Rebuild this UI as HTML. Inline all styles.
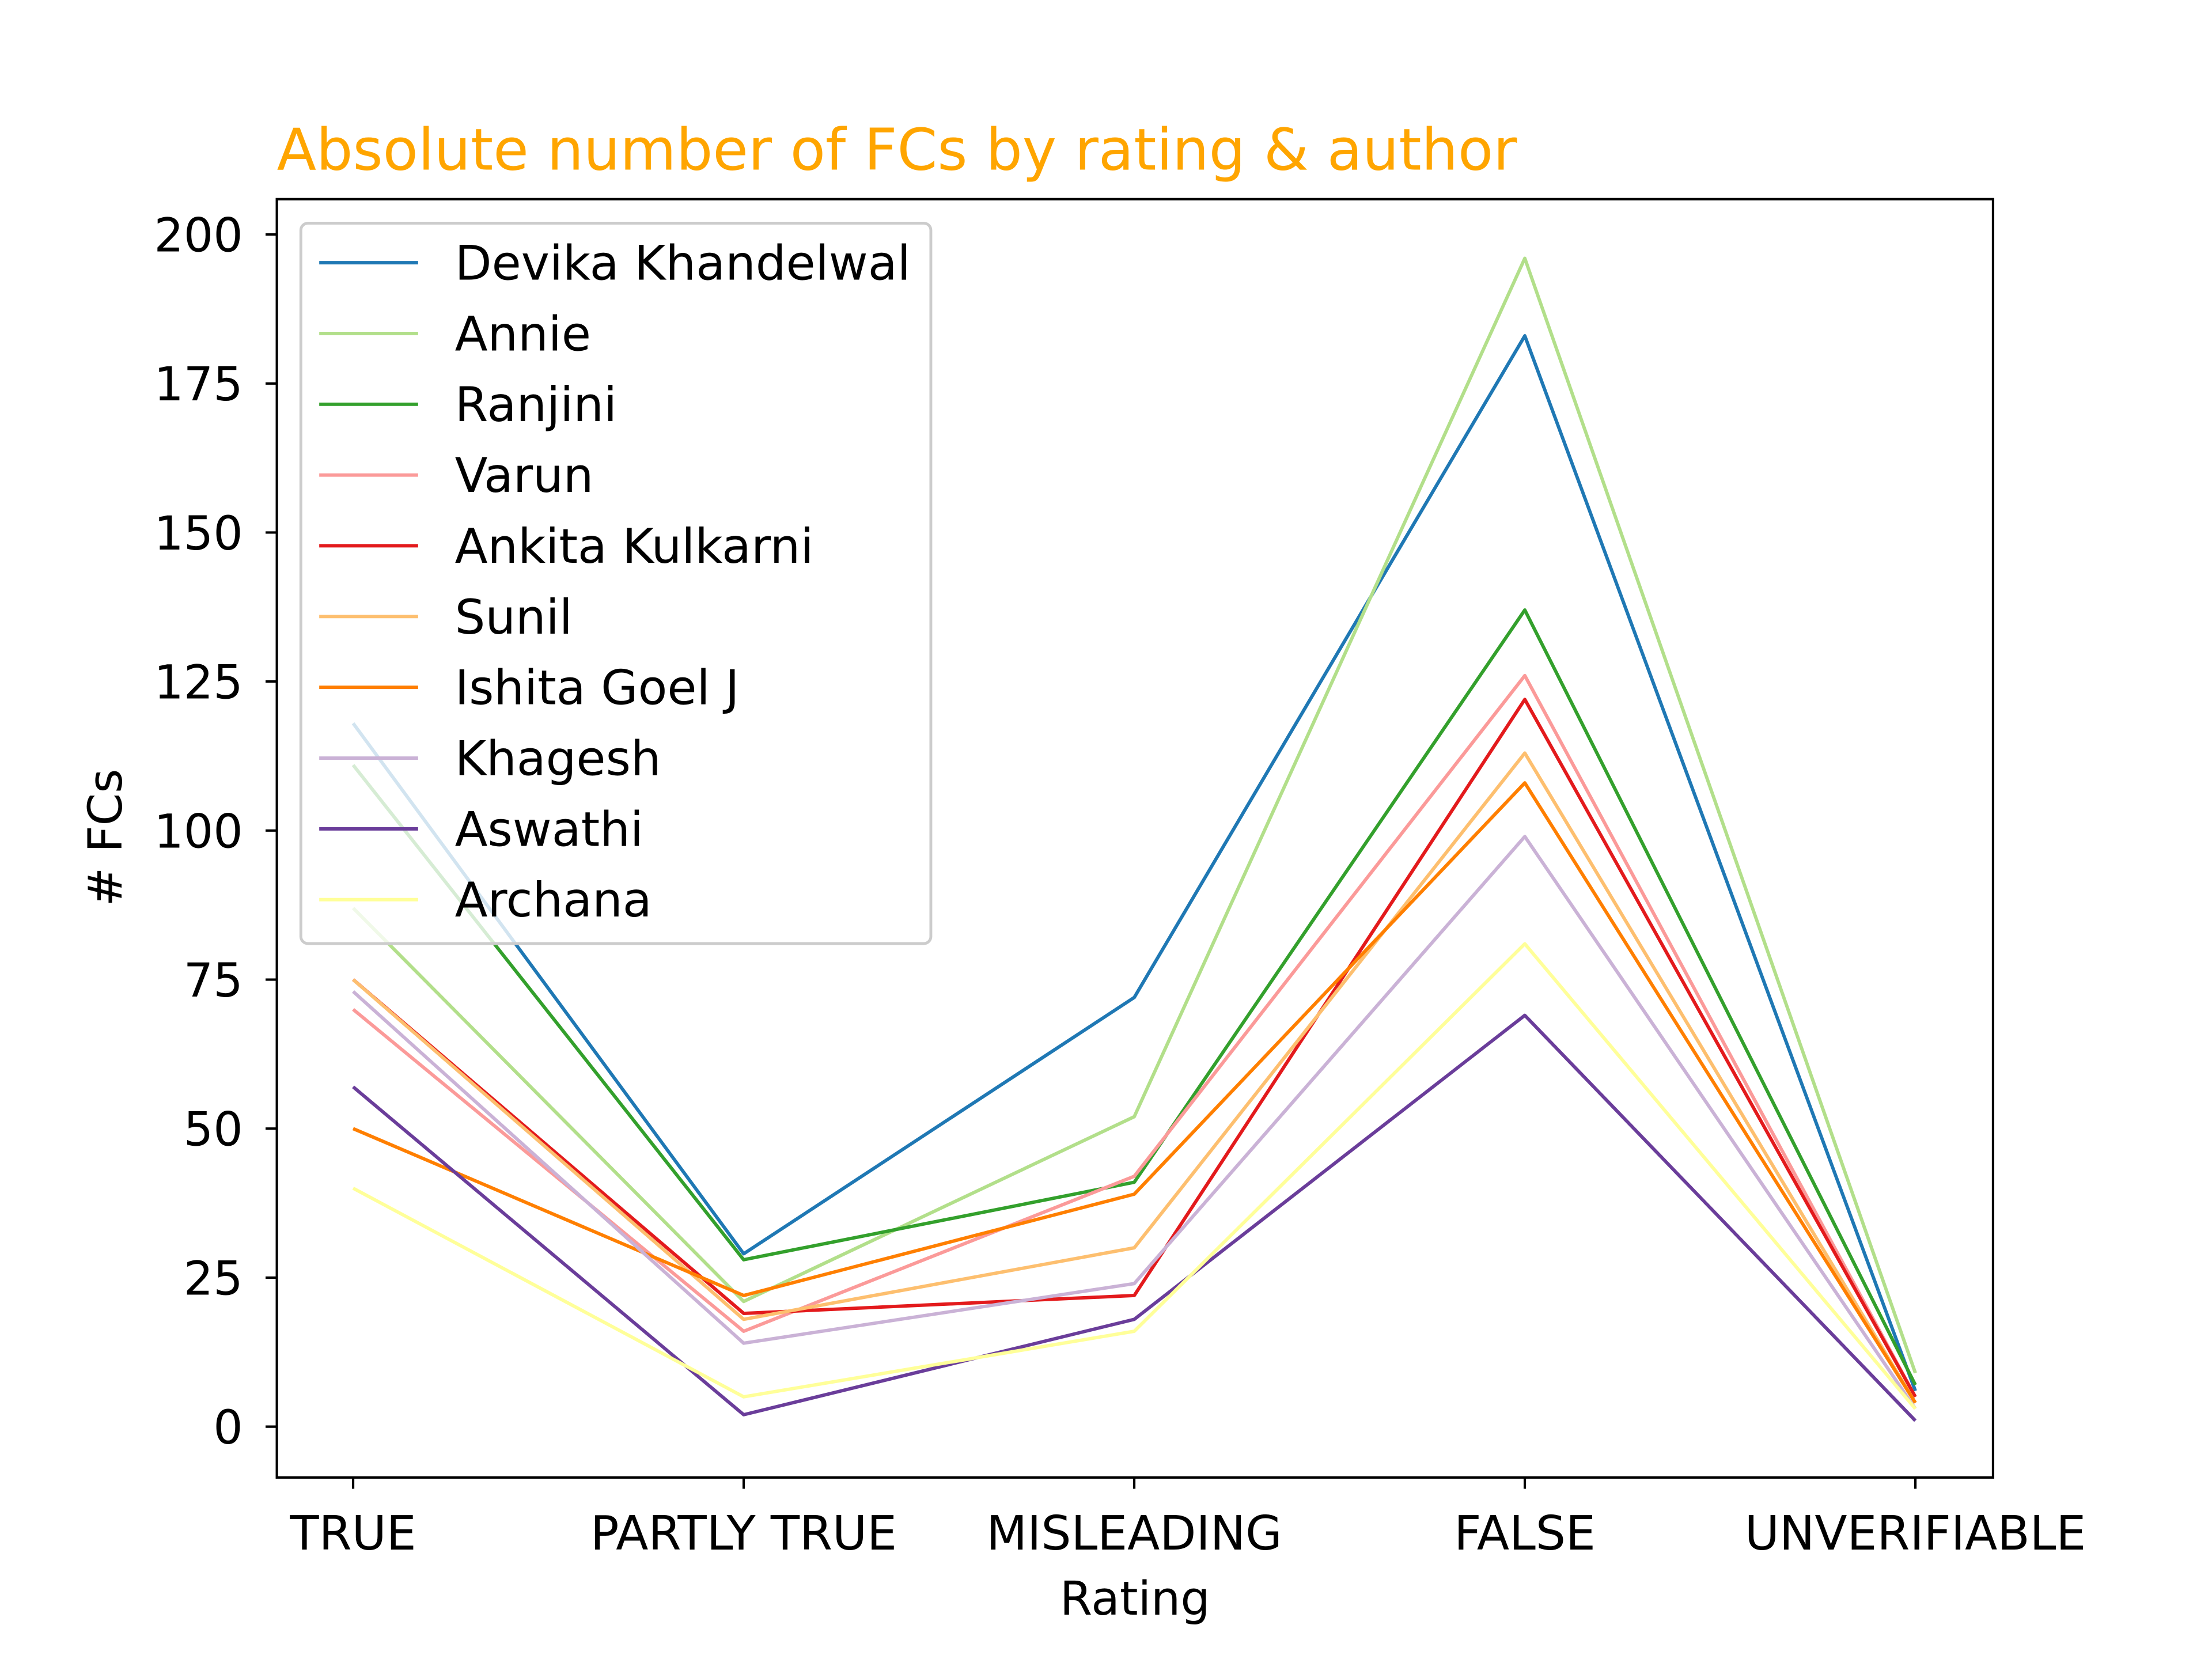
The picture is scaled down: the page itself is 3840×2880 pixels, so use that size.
<!DOCTYPE html>
<html><head><meta charset="utf-8"><style>
html,body{margin:0;padding:0;background:#fff;}
svg{display:block;}
text{font-family:"DejaVu Sans","Liberation Sans",sans-serif;}
</style></head><body>
<svg id="chart" width="3840" height="2880" viewBox="0 0 1566 1174.5" preserveAspectRatio="none" xmlns="http://www.w3.org/2000/svg">
<rect x="0" y="0" width="1566" height="1174.5" fill="#fff"/>
<text x="196" y="120" font-size="40.8" fill="#ffa500">Absolute number of FCs by rating &amp; author</text>
<g id="series"></g>
<g id="axes"></g>
<g id="legend"></g>
</svg>
<script>
const categories = ["TRUE","PARTLY TRUE","MISLEADING","FALSE","UNVERIFIABLE"];
const authors = ["Devika Khandelwal","Annie","Ranjini","Varun","Ankita Kulkarni","Sunil","Ishita Goel J","Khagesh","Aswathi","Archana"];
const colors = ["#1f78b4","#b2df8a","#33a02c","#fb9a99","#e31a1c","#fdbf6f","#ff7f00","#cab2d6","#6a3d9a","#ffff99"];
const devika = [118,29,72,183,6];
const annie = [87,21,52,196,9];
const ranjini = [111,28,41,137,7];
const varun = [70,16,42,126,5];
const ankita = [75,19,22,122,5];
const sunil = [75,18,30,113,4];
const ishita = [50,22,39,108,4];
const khagesh = [73,14,24,99,3];
const aswathi = [57,2,18,69,1];
const archana = [40,5,16,81,3];
const yTicks = [0,25,50,75,100,125,150,175,200];

const seriesValues = [devika,annie,ranjini,varun,ankita,sunil,ishita,khagesh,aswathi,archana];
const NS = "http://www.w3.org/2000/svg";
const X0=196, X1=1411, Y0=141, Y1=1046;
function xScale(i){ return 250 + i*(1356-250)/(categories.length-1); }
function yScale(v){ return 1010 - v*(1010-166)/200; }
function mk(tag, attrs, parent){ const e=document.createElementNS(NS,tag); for(const k in attrs) e.setAttribute(k,attrs[k]); parent.appendChild(e); return e; }

const sg=document.getElementById('series');
seriesValues.forEach((vals,si)=>{
  const pts=vals.map((v,i)=>xScale(i).toFixed(2)+","+yScale(v).toFixed(2)).join(" ");
  const pl=mk('polyline',{points:pts,fill:'none',stroke:colors[si],'stroke-width':2.4,'stroke-linejoin':'round'},sg);
  
  
});

const ag=document.getElementById('axes');
const frame=mk('rect',{x:X0,y:Y0,width:X1-X0,height:Y1-Y0,fill:'none',stroke:'#000','stroke-width':1.7},ag);


yTicks.forEach(t=>{
  const y=yScale(t);
  mk('line',{x1:X0-8,x2:X0,y1:y,y2:y,stroke:'#000','stroke-width':1.7},ag);
  const tx=mk('text',{x:X0-24,y:y+12,'font-size':33,'text-anchor':'end',fill:'#000'},ag);
  tx.textContent=t;
  
  
});
categories.forEach((c,i)=>{
  const x=xScale(i);
  mk('line',{x1:x,x2:x,y1:Y1,y2:Y1+8,stroke:'#000','stroke-width':1.7},ag);
  const tx=mk('text',{x:x,y:Y1+51,'font-size':33.5,'text-anchor':'middle',fill:'#000'},ag);
  tx.textContent=c;
  
  
});
const xt=mk('text',{x:(X0+X1)/2,y:1143,'font-size':33,'text-anchor':'middle',fill:'#000'},ag);
xt.textContent='Rating';


const yt=mk('text',{x:0,y:0,'font-size':33,'text-anchor':'middle',fill:'#000',transform:'translate(86,593) rotate(-90)'},ag);
yt.textContent='# FCs';



const lg=document.getElementById('legend');
const box=mk('rect',{x:213,y:158,width:446,height:510,rx:5,fill:'#fff','fill-opacity':0.8,stroke:'#ccc','stroke-width':2},lg);


authors.forEach((a,i)=>{
  const y=186+i*50.1;
  const g=mk('g',{},lg);
  
  
  mk('line',{x1:226,x2:296,y1:y,y2:y,stroke:colors[i],'stroke-width':2.4},g);
  const t=mk('text',{x:322,y:y+12,'font-size':33.9,fill:'#000'},g);
  t.textContent=a;
});
</script>
</body></html>
